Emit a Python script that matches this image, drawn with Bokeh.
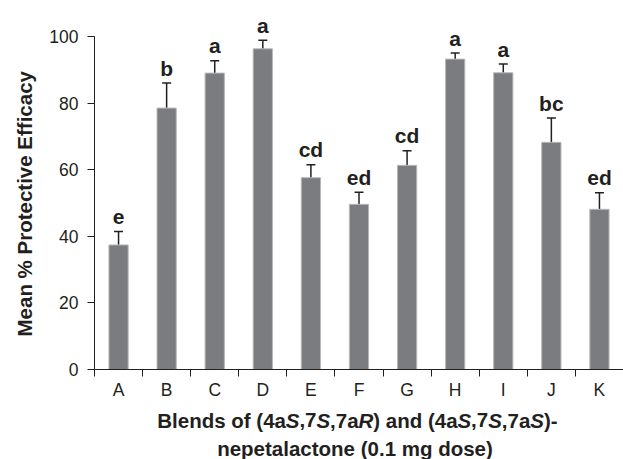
import numpy as np
from bokeh.plotting import figure
from bokeh.layouts import column
from bokeh.models import (ColumnDataSource, Range1d, FixedTicker, Whisker, TeeHead, Title)
from bokeh.core.properties import value
from bokeh.embed import file_html
from bokeh.resources import INLINE

# ---- data ----
categories = ["A", "B", "C", "D", "E", "F", "G", "H", "I", "J", "K"]
means = [37.4, 78.5, 89.0, 96.3, 57.6, 49.6, 61.3, 93.2, 89.1, 68.2, 48.1]
errors = [4.0, 7.5, 3.7, 2.6, 3.9, 3.6, 4.4, 1.8, 2.6, 7.3, 5.0]
letters = ["e", "b", "a", "a", "cd", "ed", "cd", "a", "a", "bc", "ed"]
y_ticks = [0, 20, 40, 60, 80, 100]
y_title = "Mean % Protective Efficacy"
x_title_line1 = [("Blends of (4a", False), ("S", True), (",7", False), ("S", True),
                 (",7a", False), ("R", True), (") and (4a", False), ("S", True),
                 (",7", False), ("S", True), (",7a", False), ("S", True), (")-", False)]
x_title_line2 = "nepetalactone (0.1 mg dose)"

FONT = "Liberation Sans"
INK = "#231f20"

TOTAL_W, TOTAL_H = 623, 459
BOTTOM = 35        # x-axis panel height under the frame
FRAME_H = 369
MAIN_H = FRAME_H + BOTTOM
XT_H = TOTAL_H - MAIN_H   # strip for the x title
LEFT = 93

n = len(categories)
xs = np.arange(n) + 0.5
means_a = np.array(means)
errs_a = np.array(errors)

src = ColumnDataSource(dict(
    x=xs, top=means_a, upper=means_a + errs_a, lower=means_a - errs_a,
    letter=letters,
))

p = figure(width=TOTAL_W, height=MAIN_H, output_backend="svg", toolbar_location=None,
           x_range=Range1d(0, n), y_range=Range1d(0, 110.8),
           min_border_left=LEFT, min_border_right=0, min_border_top=0,
           min_border_bottom=BOTTOM)
p.outline_line_color = None
p.grid.visible = False

p.vbar(x="x", top="top", width=0.4, bottom=0, source=src,
       fill_color="#7b7c80", line_color="#b8b8b8", line_width=1)

head_u = TeeHead(size=9, line_color=INK, line_width=1.5)
head_l = TeeHead(size=9, line_color=INK, line_width=1.5)
p.add_layout(Whisker(source=src, base="x", upper="upper", lower="lower",
                     line_color=INK, line_width=1.5,
                     upper_head=head_u, lower_head=head_l))

p.text(x="x", y="upper", text="letter", source=src,
       text_font=value(FONT), text_font_style="bold", text_font_size="21px",
       text_color=INK, text_align="center", text_baseline="alphabetic",
       y_offset=-15)

# y axis
ya = p.yaxis[0]
ya.ticker = FixedTicker(ticks=y_ticks)
ya.bounds = (0, 100)
ya.major_tick_out = 7
ya.major_tick_in = 0
ya.minor_tick_line_color = None
ya.major_label_text_font = FONT
ya.major_label_text_font_size = "17.5px"
ya.major_label_text_color = INK
ya.major_label_standoff = 9
ya.axis_line_color = INK
ya.major_tick_line_color = INK

# x axis
xa = p.xaxis[0]
xa.ticker = FixedTicker(ticks=list(xs), minor_ticks=list(range(n)))
xa.major_label_overrides = {float(x): c for x, c in zip(xs, categories)}
xa.major_tick_out = 0
xa.major_tick_in = 0
xa.minor_tick_out = 7
xa.minor_tick_in = 0
xa.minor_tick_line_color = INK
xa.major_label_text_font = FONT
xa.major_label_text_font_size = "17.5px"
xa.major_label_text_color = INK
xa.major_label_standoff = 3
xa.axis_line_color = INK

# y title as a side-panel title, placed along the 0-100 axis span
p.add_layout(Title(text=y_title, align="left", offset=33, standoff=21,
                   text_font=FONT, text_font_style="bold", text_font_size="20.5px",
                   text_color=INK), "left")

# ---- x title strip (frame aligned with main frame) ----
FRAME_W = TOTAL_W - LEFT
xfig = figure(width=TOTAL_W, height=XT_H, output_backend="svg", toolbar_location=None,
              x_range=Range1d(0, FRAME_W), y_range=Range1d(0, XT_H),
              x_axis_type=None, y_axis_type=None,
              min_border_left=LEFT, min_border_right=0, min_border_top=0,
              min_border_bottom=0)
xfig.outline_line_color = None
xfig.grid.visible = False

W = {" ": 278, "(": 333, ")": 333, ",": 278, "-": 333, ".": 278, "B": 722, "R": 722,
     "S": 667, "a": 556, "c": 556, "d": 611, "e": 556, "f": 333, "g": 611, "l": 278,
     "m": 889, "n": 611, "o": 611, "p": 611, "s": 556, "t": 333}
for ch in "0123456789":
    W[ch] = 556
fs = 20.5
def tw(s):
    return sum(W.get(c, 556) for c in s) * fs / 1000.0

center1 = 356.4 - LEFT
total = sum(tw(s) for s, _ in x_title_line1)
pos = center1 - total / 2
reg_x, reg_t, it_x, it_t = [], [], [], []
for s, ital in x_title_line1:
    (it_x if ital else reg_x).append(pos)
    (it_t if ital else reg_t).append(s)
    pos += tw(s)
y1 = 39.5
y2 = 11.5
xfig.text(x=reg_x, y=[y1] * len(reg_x), text=reg_t,
          text_font=value(FONT), text_font_style="bold", text_font_size=f"{fs}px",
          text_color=INK, text_align="left", text_baseline="alphabetic")
xfig.text(x=it_x, y=[y1] * len(it_x), text=it_t,
          text_font=value(FONT), text_font_style="bold italic", text_font_size=f"{fs}px",
          text_color=INK, text_align="left", text_baseline="alphabetic")
xfig.text(x=[354.0 - LEFT], y=[y2], text=[x_title_line2],
          text_font=value(FONT), text_font_style="bold", text_font_size=f"{fs}px",
          text_color=INK, text_align="center", text_baseline="alphabetic")

layout = column(p, xfig, spacing=0)
open("out.html", "w").write(file_html(layout, INLINE))
